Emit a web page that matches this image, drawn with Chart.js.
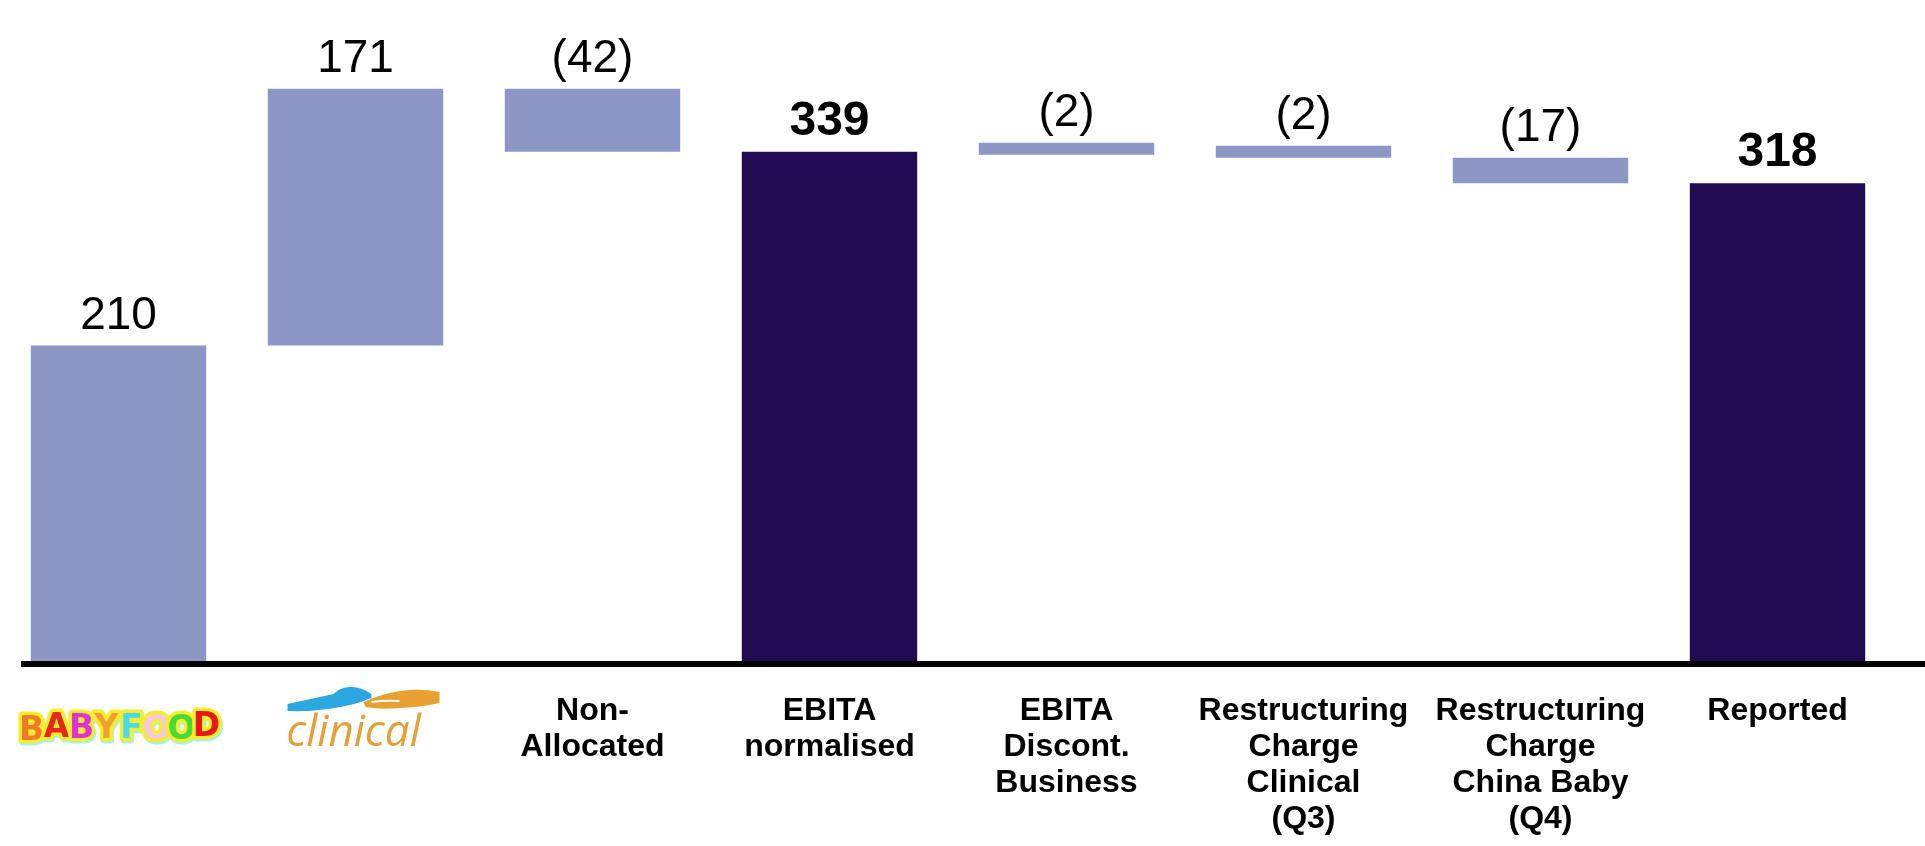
<!DOCTYPE html>
<html>
<head>
<meta charset="utf-8">
<script src="https://cdn.jsdelivr.net/npm/chart.js@4.4.1/dist/chart.umd.min.js"></script>
<style>
  html, body { margin: 0; padding: 0; background: #fff; }
  #wrap { width: 1925px; height: 846px; }
</style>
</head>
<body>
<div id="wrap"><canvas id="ebitaChart"></canvas></div>
<script>
const categories = [
  'Babyfood',
  'Clinical',
  ['Non-', 'Allocated'],
  ['EBITA', 'normalised'],
  ['EBITA', 'Discont.', 'Business'],
  ['Restructuring', 'Charge', 'Clinical', '(Q3)'],
  ['Restructuring', 'Charge', 'China Baby', '(Q4)'],
  ['Reported']
];
const amounts = [210, 171, -42, 339, -2, -2, -17, 318];
const isTotal = [false, false, false, true, false, false, false, true];

// waterfall: steps float on the running total, totals start at zero
let running = 0;
const ranges = amounts.map((v, i) => {
  if (isTotal[i]) { running = v; return [0, v]; }
  const r = [running, running + v];
  running += v;
  return r;
});
const valueLabels = amounts.map(v => v < 0 ? '(' + Math.abs(v) + ')' : String(v));

function drawBabyfood(ctx, cx, cy) {
  const letters = 'BABYFOOD'.split('');
  const colors = ['#F07A28', '#E8261E', '#E030D8', '#F0A030', '#48D8F0', '#F8C8E0', '#48D838', '#E81818'];
  const lift = [2, -1, 0, 0, 0, 1, 1, -2];
  ctx.font = 'bold 33px "DejaVu Sans", sans-serif';
  ctx.textAlign = 'center';
  ctx.textBaseline = 'middle';
  ctx.lineJoin = 'round';
  letters.forEach((ch, i) => {
    const lx = cx - 87 + i * 25;
    const ly = cy + lift[i];
    ctx.strokeStyle = '#9FF0F8';
    ctx.lineWidth = 7;
    ctx.strokeText(ch, lx + 1, ly + 2);
    ctx.strokeStyle = '#F6EE2A';
    ctx.lineWidth = 7;
    ctx.strokeText(ch, lx, ly);
    ctx.fillStyle = colors[i];
    ctx.fillText(ch, lx, ly);
  });
}

function drawClinical(ctx, cx, zero) {
  const px = (dx, dy) => [cx + dx, zero + dy];
  // blue hand reaching right
  ctx.fillStyle = '#2BA8DF';
  ctx.beginPath();
  ctx.moveTo(...px(-68, 50));
  ctx.lineTo(...px(-68, 43));
  ctx.quadraticCurveTo(...px(-45, 38), ...px(-22, 33));
  ctx.quadraticCurveTo(...px(-14, 25), ...px(-3, 26));
  ctx.quadraticCurveTo(...px(8, 27), ...px(16, 33));
  ctx.lineTo(...px(16, 37));
  ctx.quadraticCurveTo(...px(2, 43), ...px(-15, 46));
  ctx.quadraticCurveTo(...px(-40, 51), ...px(-68, 50));
  ctx.closePath();
  ctx.fill();
  // orange hand reaching left
  ctx.fillStyle = '#E8A030';
  ctx.beginPath();
  ctx.moveTo(...px(84, 31));
  ctx.quadraticCurveTo(...px(65, 27), ...px(45, 30));
  ctx.quadraticCurveTo(...px(25, 33), ...px(8, 41));
  ctx.lineTo(...px(10, 46));
  ctx.quadraticCurveTo(...px(26, 49), ...px(45, 47));
  ctx.quadraticCurveTo(...px(68, 46), ...px(84, 42));
  ctx.closePath();
  ctx.fill();
  ctx.strokeStyle = '#fff';
  ctx.lineWidth = 2;
  ctx.beginPath();
  ctx.moveTo(...px(16, 41));
  ctx.quadraticCurveTo(...px(30, 39), ...px(44, 40));
  ctx.stroke();
  // word mark
  ctx.font = 'italic 44px "Open Sans", sans-serif';
  ctx.textAlign = 'center';
  ctx.textBaseline = 'alphabetic';
  ctx.fillStyle = '#E3A03A';
  ctx.fillText('clinical', cx - 2, zero + 85);
}

const waterfallDecor = {
  id: 'waterfallDecor',
  afterDatasetsDraw(chart) {
    const { ctx, scales: { x, y } } = chart;
    const zero = y.getPixelForValue(0);
    ctx.save();
    ctx.fillStyle = '#000';
    ctx.fillRect(21, zero, chart.width - 21, 6);

    const bars = chart.getDatasetMeta(0).data;
    bars.forEach((bar, i) => {
      const top = Math.min(bar.y, bar.base);
      ctx.font = (isTotal[i] ? 'bold 48px' : '46px') + ' "Liberation Sans", Arial, sans-serif';
      ctx.textAlign = 'center';
      ctx.textBaseline = 'alphabetic';
      ctx.fillStyle = '#000';
      ctx.fillText(valueLabels[i], bar.x, top - 17);
    });

    drawBabyfood(ctx, x.getPixelForValue(0), zero + 68);
    drawClinical(ctx, x.getPixelForValue(1), zero);
    ctx.restore();
  }
};

const ctx = document.getElementById('ebitaChart');
new Chart(ctx, {
  type: 'bar',
  data: {
    labels: categories,
    datasets: [{
      data: ranges,
      backgroundColor: isTotal.map(t => t ? '#200A52' : '#8C97C6'),
      barPercentage: 0.74,
      categoryPercentage: 1,
      minBarLength: 12
    }]
  },
  options: {
    responsive: true,
    maintainAspectRatio: false,
    animation: false,
    layout: { padding: { left: -4, right: 29, top: 0, bottom: 0 } },
    plugins: {
      legend: { display: false },
      tooltip: { enabled: false }
    },
    scales: {
      x: {
        grid: { display: false, drawTicks: false },
        border: { display: false },
        ticks: {
          color: '#000',
          font: { family: '"Liberation Sans", Arial, sans-serif', size: 32, weight: 'bold', lineHeight: 1.125 },
          padding: 32,
          maxRotation: 0,
          autoSkip: false,
          callback: function (v, i) { return i < 2 ? '' : this.getLabelForValue(v); }
        },
        afterFit: s => { s.height = 185; }
      },
      y: { display: false, min: 0, max: 440 }
    }
  },
  plugins: [waterfallDecor]
});
</script>
</body>
</html>
